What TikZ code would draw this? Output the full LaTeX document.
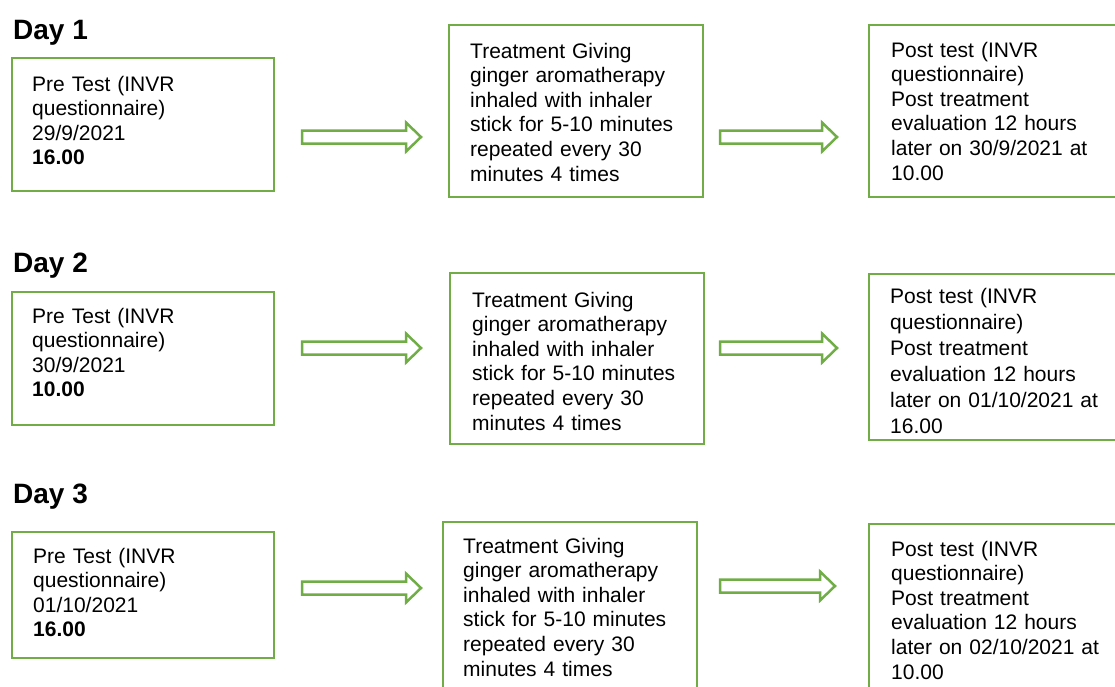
\documentclass[tikz,border=0pt]{standalone}
\usepackage{fontspec}
\setmainfont{Liberation Sans}
\usetikzlibrary{calc}
\definecolor{grn}{HTML}{70AD47}
\tikzset{
  box/.style={draw=grn, line width=2.5pt, anchor=north west, inner sep=0pt, outer sep=0pt},
  txt/.style={anchor=base west, inner sep=0pt, text width=#1, align=left, font=\fontsize{21}{24.6}\selectfont},
  txtw/.style={anchor=base west, inner sep=0pt, text width=#1, align=left, font=\fontsize{21}{26}\selectfont},
  day/.style={anchor=base west, inner sep=0pt, font=\bfseries\fontsize{28}{32}\selectfont},
  barrow/.style={draw=grn, line width=2.5pt, fill=white, line join=miter},
}
\newcommand\blockarrow[2]{\draw[barrow] ($(#1)+(0,-6.5)$) -- ($(#2)+(-15,-6.5)$) -- ($(#2)+(-15,-14.5)$) -- (#2) -- ($(#2)+(-15,14.5)$) -- ($(#2)+(-15,6.5)$) -- ($(#1)+(0,6.5)$) -- cycle;}
\begin{document}
\begin{tikzpicture}[x=1pt,y=-1pt]
\useasboundingbox (0,0) rectangle (1115,686);
\clip (0,0) rectangle (1115,686);
% Day labels
\node[day] (d1) at (13,39) {Day 1};
\node[day] (d2) at (13,272) {Day 2};
\node[day] (d3) at (13,503) {Day 3};
% Row 1
\node[box, minimum width=262, minimum height=133] (a1) at (12,58) {};
\node[txt=235pt] (ta1) at (32,91) {Pre Test (INVR\\questionnaire)\\29/9/2021\\\textbf{16.00}};
\node[box, minimum width=254, minimum height=172] (b1) at (449,25) {};
\node[txt=230pt] (tb1) at (470,58) {Treatment Giving\\ginger aromatherapy\\inhaled with inhaler\\stick for 5-10 minutes\\repeated every 30\\minutes 4 times};
\node[box, minimum width=260, minimum height=172] (c1) at (869,25) {};
\node[txt=220pt] (tc1) at (891,57) {Post test (INVR\\questionnaire)\\Post treatment\\evaluation 12 hours\\later on 30/9/2021 at\\10.00};
% Row 2
\node[box, minimum width=262, minimum height=133] (a2) at (12,292) {};
\node[txt=235pt] (ta2) at (32,323) {Pre Test (INVR\\questionnaire)\\30/9/2021\\\textbf{10.00}};
\node[box, minimum width=254, minimum height=171] (b2) at (450,273) {};
\node[txt=230pt] (tb2) at (472,307) {Treatment Giving\\ginger aromatherapy\\inhaled with inhaler\\stick for 5-10 minutes\\repeated every 30\\minutes 4 times};
\node[box, minimum width=260, minimum height=166] (c2) at (869,274) {};
\node[txtw=220pt] (tc2) at (890,303) {Post test (INVR\\questionnaire)\\Post treatment\\evaluation 12 hours\\later on 01/10/2021 at\\16.00};
% Row 3
\node[box, minimum width=262, minimum height=126] (a3) at (12,532) {};
\node[txt=235pt] (ta3) at (33,563) {Pre Test (INVR\\questionnaire)\\01/10/2021\\\textbf{16.00}};
\node[box, minimum width=254, minimum height=180] (b3) at (443,522) {};
\node[txt=230pt] (tb3) at (463,553) {Treatment Giving\\ginger aromatherapy\\inhaled with inhaler\\stick for 5-10 minutes\\repeated every 30\\minutes 4 times};
\node[box, minimum width=260, minimum height=180] (c3) at (869,524) {};
\node[txt=220pt] (tc3) at (891,556) {Post test (INVR\\questionnaire)\\Post treatment\\evaluation 12 hours\\later on 02/10/2021 at\\10.00};
% Arrows
\coordinate (r1as) at (302,137); \coordinate (r1ae) at (421,137);
\coordinate (r1bs) at (720,137); \coordinate (r1be) at (837,137);
\coordinate (r2as) at (302,348); \coordinate (r2ae) at (421,348);
\coordinate (r2bs) at (720,348); \coordinate (r2be) at (837,348);
\coordinate (r3as) at (302,588); \coordinate (r3ae) at (421,588);
\coordinate (r3bs) at (720,586); \coordinate (r3be) at (835,586);
\blockarrow{r1as}{r1ae}
\blockarrow{r1bs}{r1be}
\blockarrow{r2as}{r2ae}
\blockarrow{r2bs}{r2be}
\blockarrow{r3as}{r3ae}
\blockarrow{r3bs}{r3be}
\end{tikzpicture}
\end{document}
